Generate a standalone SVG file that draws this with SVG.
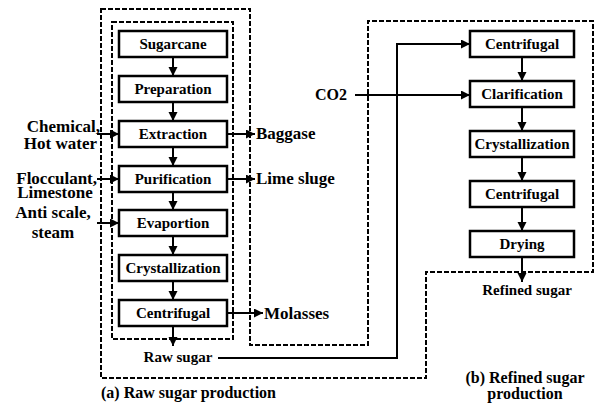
<svg xmlns="http://www.w3.org/2000/svg" width="594" height="406" viewBox="0 0 594 406">
<defs>
<marker id="ah" markerUnits="userSpaceOnUse" markerWidth="10" markerHeight="10" refX="9" refY="4.5" orient="auto">
<path d="M0,0 L9,4.5 L0,9 z" fill="#000"/>
</marker>
</defs>
<rect width="594" height="406" fill="#fff"/>
<g id="frames" fill="none" stroke="#000" stroke-width="2" stroke-dasharray="5 2">
<path d="M101,9 H250 V345 H368 V21 H593 V272 H426 V378 H101 Z"/>
<rect x="112" y="22" width="121" height="317"/>
</g>
<g id="connectors" fill="none" stroke="#000" stroke-width="2" marker-end="url(#ah)">
<line x1="173" y1="57" x2="173" y2="76"/>
<line x1="173" y1="102" x2="173" y2="121"/>
<line x1="173" y1="147" x2="173" y2="166"/>
<line x1="173" y1="192" x2="173" y2="210"/>
<line x1="173" y1="236" x2="173" y2="255"/>
<line x1="173" y1="281" x2="173" y2="300"/>
<line x1="173" y1="326" x2="173" y2="346"/>
<line x1="97" y1="134" x2="119" y2="134"/>
<line x1="97" y1="179" x2="119" y2="179"/>
<line x1="97" y1="223" x2="119" y2="223"/>
<line x1="227" y1="134" x2="255" y2="134"/>
<line x1="227" y1="179" x2="255" y2="179"/>
<line x1="227" y1="313" x2="263" y2="313"/>
<path d="M218,358 H397 V44 H470"/>
<line x1="355" y1="95" x2="470" y2="95"/>
<line x1="522" y1="57" x2="522" y2="81"/>
<line x1="522" y1="107" x2="522" y2="131"/>
<line x1="522" y1="157" x2="522" y2="181"/>
<line x1="522" y1="207" x2="522" y2="231"/>
<line x1="522" y1="257" x2="522" y2="282"/>
</g>
<g id="n-sugarcane"><rect x="119" y="31" width="108" height="26" fill="#fff" stroke="#000" stroke-width="2.5"/><text x="173" y="49" font-family="Liberation Serif" font-weight="bold" font-size="15" text-anchor="middle">Sugarcane</text></g>
<g id="n-preparation"><rect x="119" y="76" width="108" height="26" fill="#fff" stroke="#000" stroke-width="2.5"/><text x="173" y="94" font-family="Liberation Serif" font-weight="bold" font-size="15" text-anchor="middle">Preparation</text></g>
<g id="n-extraction"><rect x="119" y="121" width="108" height="26" fill="#fff" stroke="#000" stroke-width="2.5"/><text x="173" y="139" font-family="Liberation Serif" font-weight="bold" font-size="15" text-anchor="middle">Extraction</text></g>
<g id="n-purification"><rect x="119" y="166" width="108" height="26" fill="#fff" stroke="#000" stroke-width="2.5"/><text x="173" y="184" font-family="Liberation Serif" font-weight="bold" font-size="15" text-anchor="middle">Purification</text></g>
<g id="n-evaporation"><rect x="119" y="210" width="108" height="26" fill="#fff" stroke="#000" stroke-width="2.5"/><text x="173" y="228" font-family="Liberation Serif" font-weight="bold" font-size="15" text-anchor="middle">Evaportion</text></g>
<g id="n-crystallization-a"><rect x="119" y="255" width="108" height="26" fill="#fff" stroke="#000" stroke-width="2.5"/><text x="173" y="273" font-family="Liberation Serif" font-weight="bold" font-size="15" text-anchor="middle">Crystallization</text></g>
<g id="n-centrifugal-a"><rect x="119" y="300" width="108" height="26" fill="#fff" stroke="#000" stroke-width="2.5"/><text x="173" y="318" font-family="Liberation Serif" font-weight="bold" font-size="15" text-anchor="middle">Centrifugal</text></g>
<g id="n-centrifugal-b1"><rect x="470" y="31" width="104" height="26" fill="#fff" stroke="#000" stroke-width="2.5"/><text x="522" y="49" font-family="Liberation Serif" font-weight="bold" font-size="15" text-anchor="middle">Centrifugal</text></g>
<g id="n-clarification"><rect x="470" y="81" width="104" height="26" fill="#fff" stroke="#000" stroke-width="2.5"/><text x="522" y="99" font-family="Liberation Serif" font-weight="bold" font-size="15" text-anchor="middle">Clarification</text></g>
<g id="n-crystallization-b"><rect x="470" y="131" width="104" height="26" fill="#fff" stroke="#000" stroke-width="2.5"/><text x="522" y="149" font-family="Liberation Serif" font-weight="bold" font-size="15" text-anchor="middle">Crystallization</text></g>
<g id="n-centrifugal-b2"><rect x="470" y="181" width="104" height="26" fill="#fff" stroke="#000" stroke-width="2.5"/><text x="522" y="199" font-family="Liberation Serif" font-weight="bold" font-size="15" text-anchor="middle">Centrifugal</text></g>
<g id="n-drying"><rect x="470" y="231" width="104" height="26" fill="#fff" stroke="#000" stroke-width="2.5"/><text x="522" y="249" font-family="Liberation Serif" font-weight="bold" font-size="15" text-anchor="middle">Drying</text></g>
<g id="labels">
<text x="100" y="132" font-family="Liberation Serif" font-weight="bold" font-size="17" text-anchor="end">Chemical,</text>
<text x="97" y="149" font-family="Liberation Serif" font-weight="bold" font-size="17" text-anchor="end">Hot water</text>
<text x="97" y="184" font-family="Liberation Serif" font-weight="bold" font-size="17" text-anchor="end">Flocculant,</text>
<text x="55" y="198" font-family="Liberation Serif" font-weight="bold" font-size="17" text-anchor="middle">Limestone</text>
<text x="53" y="218" font-family="Liberation Serif" font-weight="bold" font-size="17" text-anchor="middle">Anti scale,</text>
<text x="53" y="238" font-family="Liberation Serif" font-weight="bold" font-size="17" text-anchor="middle">steam</text>
<text x="256" y="139" font-family="Liberation Serif" font-weight="bold" font-size="17">Baggase</text>
<text x="256" y="184" font-family="Liberation Serif" font-weight="bold" font-size="17">Lime sluge</text>
<text x="264" y="319" font-family="Liberation Serif" font-weight="bold" font-size="17">Molasses</text>
<text x="315" y="100" font-family="Liberation Serif" font-weight="bold" font-size="16">CO2</text>
<text x="178" y="362" font-family="Liberation Serif" font-weight="bold" font-size="15" text-anchor="middle">Raw sugar</text>
<text x="527" y="295" font-family="Liberation Serif" font-weight="bold" font-size="15" text-anchor="middle">Refined sugar</text>
<text x="101" y="398" font-family="Liberation Serif" font-weight="bold" font-size="16">(a) Raw sugar production</text>
<text x="525" y="383" font-family="Liberation Serif" font-weight="bold" font-size="16" text-anchor="middle">(b) Refined sugar</text>
<text x="525" y="399" font-family="Liberation Serif" font-weight="bold" font-size="16" text-anchor="middle">production</text>
</g>
</svg>
